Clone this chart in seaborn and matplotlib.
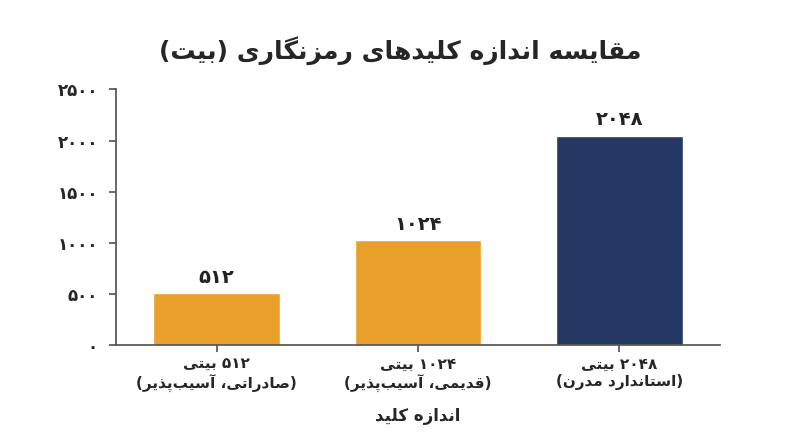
import re
import matplotlib
matplotlib.use("Agg")
import matplotlib.pyplot as plt
import seaborn as sns
import pandas as pd

categories = ["۵۱۲ بیتی\n(صادراتی، آسیب‌پذیر)", "۱۰۲۴ بیتی\n(قدیمی، آسیب‌پذیر)", "۲۰۴۸ بیتی\n(استاندارد مدرن)"]
values = [512, 1024, 2048]
value_labels = ["۵۱۲", "۱۰۲۴", "۲۰۴۸"]
yticks = [0, 500, 1000, 1500, 2000, 2500]
ytick_labels = ["۰", "۵۰۰", "۱۰۰۰", "۱۵۰۰", "۲۰۰۰", "۲۵۰۰"]
colors = ["#E8A02A", "#E8A02A", "#253864"]
title = "مقایسه اندازه کلیدهای رمزنگاری (بیت)"
xlabel = "اندازه کلید"

FORMS = {
    'ا': (0xFE8D, 0xFE8E, None, None), 'آ': (0xFE81, 0xFE82, None, None),
    'ب': (0xFE8F, 0xFE90, 0xFE91, 0xFE92), 'ت': (0xFE95, 0xFE96, 0xFE97, 0xFE98),
    'پ': (0xFB56, 0xFB57, 0xFB58, 0xFB59), 'د': (0xFEA9, 0xFEAA, None, None),
    'ذ': (0xFEAB, 0xFEAC, None, None), 'ر': (0xFEAD, 0xFEAE, None, None),
    'ز': (0xFEAF, 0xFEB0, None, None), 'س': (0xFEB1, 0xFEB2, 0xFEB3, 0xFEB4),
    'ص': (0xFEB9, 0xFEBA, 0xFEBB, 0xFEBC), 'ق': (0xFED5, 0xFED6, 0xFED7, 0xFED8),
    'ک': (0xFB8E, 0xFB8F, 0xFB90, 0xFB91), 'گ': (0xFB92, 0xFB93, 0xFB94, 0xFB95),
    'ل': (0xFEDD, 0xFEDE, 0xFEDF, 0xFEE0), 'م': (0xFEE1, 0xFEE2, 0xFEE3, 0xFEE4),
    'ن': (0xFEE5, 0xFEE6, 0xFEE7, 0xFEE8), 'ه': (0xFEE9, 0xFEEA, 0xFEEB, 0xFEEC),
    'ی': (0xFBFC, 0xFBFD, 0xFBFE, 0xFBFF),
}

def joins_left(c):
    return c in FORMS and FORMS[c][2] is not None

def shape_line(s):
    out = []
    for i, c in enumerate(s):
        if c not in FORMS:
            if c != '\u200c':
                out.append(c)
            continue
        prev = s[i-1] if i > 0 else ''
        nxt = s[i+1] if i + 1 < len(s) else ''
        jp = joins_left(prev)
        jn = nxt in FORMS and joins_left(c)
        f = FORMS[c]
        if jp and jn:
            code = f[3]
        elif jp:
            code = f[1]
        elif jn:
            code = f[2]
        else:
            code = f[0]
        out.append(chr(code))
    r = ''.join(out)[::-1]
    r = r.translate(str.maketrans('()', ')('))
    r = re.sub(r'[۰-۹0-9]+', lambda m: m.group(0)[::-1], r)
    return r

def fa(s):
    return '\n'.join(shape_line(l) for l in s.split('\n'))

sns.set_theme(style="white")
plt.rcParams['font.family'] = ['DejaVu Sans']

df = pd.DataFrame({"cat": [fa(c) for c in categories], "val": values})
fig = plt.figure(figsize=(8, 4.47), dpi=100)
ax = fig.add_axes([0.145, 0.228, 0.755, 0.572])
sns.barplot(data=df, x="cat", y="val", hue="cat", palette=colors, legend=False, width=0.63, ax=ax, saturation=1)
for i, (v, lab) in enumerate(zip(values, value_labels)):
    ax.text(i, v + 60, fa(lab), ha='center', va='bottom', fontsize=14, fontweight='bold', color='#222222')
ax.set_ylim(0, 2500)
ax.set_yticks(yticks)
ax.set_yticklabels([fa(t) for t in ytick_labels], fontsize=12, fontweight='bold')
ax.tick_params(axis='x', labelsize=11, length=5, color='#555555', bottom=True)
ax.tick_params(axis='y', length=5, color='#555555', left=True, pad=8)
for lbl in ax.get_xticklabels():
    lbl.set_fontweight('bold')
ax.set_xlabel(fa(xlabel), fontsize=12, fontweight='bold', labelpad=10)
ax.set_ylabel('')
for s in ['top', 'right']:
    ax.spines[s].set_visible(False)
for s in ['left', 'bottom']:
    ax.spines[s].set_color('#555555')
fig.suptitle(fa(title), fontsize=18, fontweight='bold', y=0.92)
fig.savefig("out.png", dpi=100, facecolor='white')
